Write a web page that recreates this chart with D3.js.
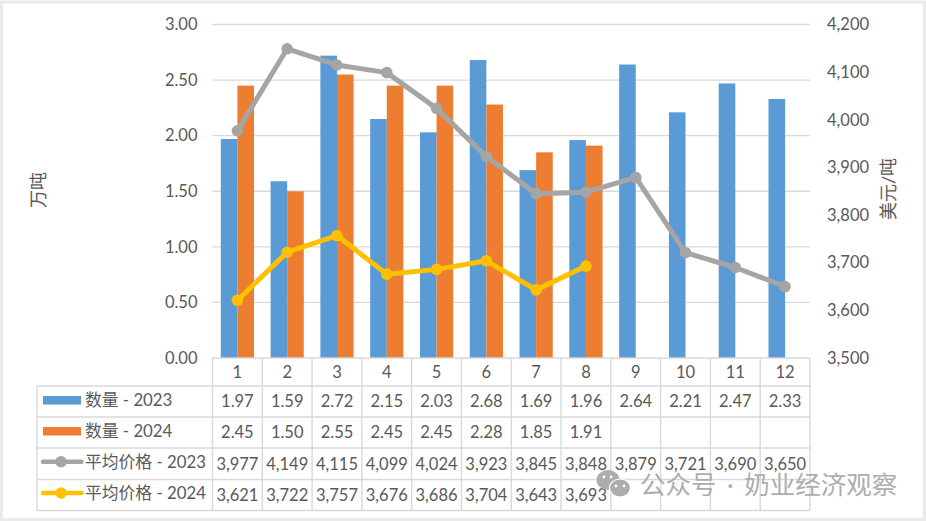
<!DOCTYPE html>
<html>
<head>
<meta charset="utf-8">
<script src="https://cdn.jsdelivr.net/npm/d3@7"></script>
<style>
html,body{margin:0;padding:0;background:#fff}
svg{display:block}
text{font-family:Lato,"Noto Sans CJK SC",sans-serif;fill:#595959}
</style>
</head>
<body>
<svg id="chart" width="926" height="521"></svg>
<script>
// Monthly volume and average price, 2023 against 2024
const months = ["1","2","3","4","5","6","7","8","9","10","11","12"];
const qty2023 = [1.97,1.59,2.72,2.15,2.03,2.68,1.69,1.96,2.64,2.21,2.47,2.33];
const qty2024 = [2.45,1.50,2.55,2.45,2.45,2.28,1.85,1.91,null,null,null,null];
const price2023 = [3977,4149,4115,4099,4024,3923,3845,3848,3879,3721,3690,3650];
const price2024 = [3621,3722,3757,3676,3686,3704,3643,3693,null,null,null,null];
const qtyTicks = [0,0.5,1,1.5,2,2.5,3];
const priceTicks = [3500,3600,3700,3800,3900,4000,4100,4200];
const seriesNames = ["数量 - 2023","数量 - 2024","平均价格 - 2023","平均价格 - 2024"];
const seriesColors = ["#5b9bd5","#ed7d31","#a5a5a5","#ffc000"];

const svg = d3.select("#chart");
const plotLeft = 212.5, plotRight = 810, plotTop = 24.5, plotBottom = 358;
const grid = "#d9d9d9", ink = "#595959";

// Pale frame round the whole picture
svg.append("rect").attr("x",1.5).attr("y",2).attr("width",923).attr("height",517.5)
  .attr("fill","none").attr("stroke","#ebebeb").attr("stroke-width",3);

const x = d3.scaleBand().domain(months).range([plotLeft,plotRight]);
const barGroup = d3.scaleBand().domain(["a","b"]).range([0,x.bandwidth()]).paddingOuter(0.5).paddingInner(0);
const yQty = d3.scaleLinear().domain([0,3]).range([plotBottom,plotTop]);
const yPrice = d3.scaleLinear().domain([3500,4200]).range([plotBottom,plotTop]);

// Gridlines and both value axes
const axisLeft = d3.axisLeft(yQty).tickValues(qtyTicks).tickFormat(d3.format(".2f")).tickSize(0).tickPadding(15);
const axisRight = d3.axisRight(yPrice).tickValues(priceTicks).tickFormat(d3.format(",")).tickSize(0).tickPadding(17);
svg.append("g").selectAll("line").data(qtyTicks.slice(1)).join("line")
  .attr("x1",plotLeft).attr("x2",plotRight).attr("y1",yQty).attr("y2",yQty)
  .attr("stroke",grid).attr("stroke-width",1.4);
const gl = svg.append("g").attr("transform",`translate(${plotLeft},0)`).call(axisLeft);
const gr = svg.append("g").attr("transform",`translate(${plotRight},0)`).call(axisRight);
[gl,gr].forEach(g=>{
  g.select(".domain").remove();
  g.selectAll("text").attr("font-size",16.5).attr("fill",ink).style("fill",ink);
});

// Axis titles
svg.append("text").attr("transform","translate(45,190) rotate(-90)").attr("text-anchor","middle")
  .attr("font-size",18).text("万吨");
svg.append("text").attr("transform","translate(895,189) rotate(-90)").attr("text-anchor","middle")
  .attr("font-size",18).text("美元/吨");

// Bars
const bars = (vals,key,color)=>svg.append("g").selectAll("rect")
  .data(vals.map((v,i)=>({v,m:months[i]})).filter(d=>d.v!==null)).join("rect")
  .attr("x",d=>x(d.m)+barGroup(key)).attr("width",barGroup.bandwidth())
  .attr("y",d=>yQty(d.v)).attr("height",d=>plotBottom-yQty(d.v)).attr("fill",color);
bars(qty2023,"a",seriesColors[0]);
bars(qty2024,"b",seriesColors[1]);

// Price lines with round markers
const priceLine = d3.line().defined(d=>d.v!==null).x(d=>x(d.m)+x.bandwidth()/2).y(d=>yPrice(d.v));
const lineSeries = (vals,color)=>{
  const pts = vals.map((v,i)=>({v,m:months[i]}));
  svg.append("path").datum(pts).attr("d",priceLine).attr("fill","none")
    .attr("stroke",color).attr("stroke-width",5).attr("stroke-linejoin","round").attr("stroke-linecap","round");
  svg.append("g").selectAll("circle").data(pts.filter(d=>d.v!==null)).join("circle")
    .attr("cx",d=>x(d.m)+x.bandwidth()/2).attr("cy",d=>yPrice(d.v)).attr("r",5.8).attr("fill",color);
};
lineSeries(price2023,seriesColors[2]);
lineSeries(price2024,seriesColors[3]);

// Data table under the plot
const tableLeft = 37;
const rowY = [358,386,417,448,479.5,510.5];
const table = svg.append("g").attr("stroke",grid).attr("stroke-width",1.4);
rowY.forEach((ry,i)=>table.append("line").attr("x1",i===0?plotLeft:tableLeft).attr("x2",plotRight).attr("y1",ry).attr("y2",ry));
table.append("line").attr("x1",tableLeft).attr("x2",tableLeft).attr("y1",rowY[1]).attr("y2",rowY[5]);
months.concat(["end"]).forEach(m=>{
  const vx = m==="end" ? plotRight : x(m);
  table.append("line").attr("x1",vx).attr("x2",vx).attr("y1",rowY[0]).attr("y2",rowY[5]);
});
const cellFont = 16.5;
svg.append("g").selectAll("text").data(months).join("text")
  .attr("x",m=>x(m)+x.bandwidth()/2).attr("y",372).attr("dy","0.35em").attr("text-anchor","middle")
  .attr("font-size",cellFont).text(m=>m);
const rows = [
  [qty2023,d3.format(".2f")],
  [qty2024,d3.format(".2f")],
  [price2023,d3.format(",")],
  [price2024,d3.format(",")]
];
rows.forEach(([vals,fmt],r)=>{
  const cy = (rowY[r+1]+rowY[r+2])/2;
  svg.append("g").selectAll("text").data(vals.map((v,i)=>({v,m:months[i]})).filter(d=>d.v!==null)).join("text")
    .attr("x",d=>x(d.m)+x.bandwidth()/2).attr("y",cy).attr("dy","0.35em").attr("text-anchor","middle")
    .attr("font-size",cellFont).text(d=>fmt(d.v));
  // Legend key and series name in the first column
  const color = seriesColors[r];
  if(r<2){
    svg.append("rect").attr("x",43).attr("y",cy-5.5).attr("width",38).attr("height",8.5).attr("fill",color);
  }else{
    svg.append("line").attr("x1",43).attr("x2",81.5).attr("y1",cy-2).attr("y2",cy-2)
      .attr("stroke",color).attr("stroke-width",4.5).attr("stroke-linecap","round");
    svg.append("circle").attr("cx",61).attr("cy",cy-2).attr("r",5.8).attr("fill",color);
  }
  svg.append("text").attr("x",85).attr("y",cy-1.5).attr("dy","0.35em").attr("font-size",16.8).text(seriesNames[r]);
});

// Account mark in the lower right corner
const mark = svg.append("g");
mark.append("ellipse").attr("cx",608).attr("cy",480).attr("rx",11.5).attr("ry",10).attr("fill","#adadad");
mark.append("ellipse").attr("cx",620).attr("cy",488).attr("rx",10.5).attr("ry",9).attr("fill","#adadad").attr("stroke","#fff").attr("stroke-width",1.2);
[[604,477],[611,477],[616,486],[624,486]].forEach(([cx,cy])=>
  mark.append("circle").attr("cx",cx).attr("cy",cy).attr("r",1.4).attr("fill","#fff"));
svg.append("text").attr("x",640).attr("y",485).attr("dy","0.35em").attr("font-size",25.5)
  .attr("word-spacing",4).style("fill","#adadad").text("公众号 · 奶业经济观察");
</script>
</body>
</html>
